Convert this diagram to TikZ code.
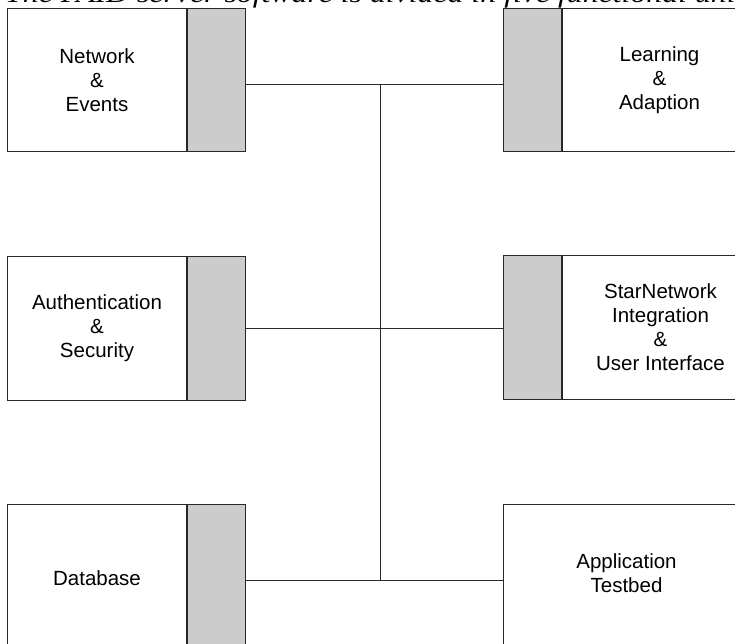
\documentclass[tikz,border=0pt]{standalone}
\usepackage{fontspec}
\newfontfamily\boxfont{Liberation Sans}
\newfontfamily\capfont{Liberation Serif}[FakeStretch=1.2]
\definecolor{portgray}{RGB}{204,204,204}
\definecolor{edge}{RGB}{40,40,40}
\tikzset{
  unit/.style={draw=edge, fill=white, line width=1pt, inner sep=0pt,
    align=center, font=\boxfont\fontsize{20.5}{24}\selectfont},
  port/.style={draw=edge, fill=portgray, line width=1pt, inner sep=0pt,
    minimum width=58pt},
  wire/.style={draw=edge, line width=1pt},
  caption/.style={font=\capfont\itshape\fontsize{26.5}{30}\selectfont,
    inner sep=0pt, anchor=base west}
}
\begin{document}
\begin{tikzpicture}[x=1pt, y=-1pt]
  \useasboundingbox (0,0) rectangle (735,644);
  \clip (0,0) rectangle (735,644);

  % heading line running off the top edge
  \node[caption] (heading) at (5,3)
    {The PAID server software is divided in five functional units.};

  % left column: text field with a grey port on its right side
  \node[unit, anchor=north west, minimum width=179pt, minimum height=143pt]
    (ne) at (7,8) {Network\\\&\\Events};
  \node[port, anchor=north west, minimum height=143pt] (neport) at (ne.north east) {};

  \node[unit, anchor=north west, minimum width=179pt, minimum height=144pt]
    (as) at (7,256) {Authentication\\\&\\Security};
  \node[port, anchor=north west, minimum height=144pt] (asport) at (as.north east) {};

  \node[unit, anchor=north west, minimum width=179pt, minimum height=148pt]
    (db) at (7,504) {Database};
  \node[port, anchor=north west, minimum height=148pt] (dbport) at (db.north east) {};

  % right column: grey port on the left side
  \node[port, anchor=north west, minimum height=143pt] (laport) at (503,8) {};
  \node[unit, anchor=north west, minimum width=194pt, minimum height=143pt]
    (la) at (laport.north east) {Learning\\\&\\Adaption};

  \node[port, anchor=north west, minimum height=144pt] (snport) at (503,255) {};
  \node[unit, anchor=north west, minimum width=196pt, minimum height=144pt]
    (sn) at (snport.north east) {StarNetwork\\Integration\\\&\\User Interface};

  \node[unit, anchor=north west, minimum width=247pt, minimum height=150pt]
    (at) at (503,504) {};
  \node[unit, draw=none, fill=none] (attext) at (626.5,573) {Application\\Testbed};

  % central bus
  \coordinate (hubN) at (380,85);
  \coordinate (hubM) at (380,328);
  \coordinate (hubS) at (380,580);
  \draw[wire] (neport.east |- hubN) -- (laport.west |- hubN);
  \draw[wire] (asport.east |- hubM) -- (snport.west |- hubM);
  \draw[wire] (dbport.east |- hubS) -- (at.west |- hubS);
  \draw[wire] (hubN) -- (hubS);
\end{tikzpicture}
\end{document}
